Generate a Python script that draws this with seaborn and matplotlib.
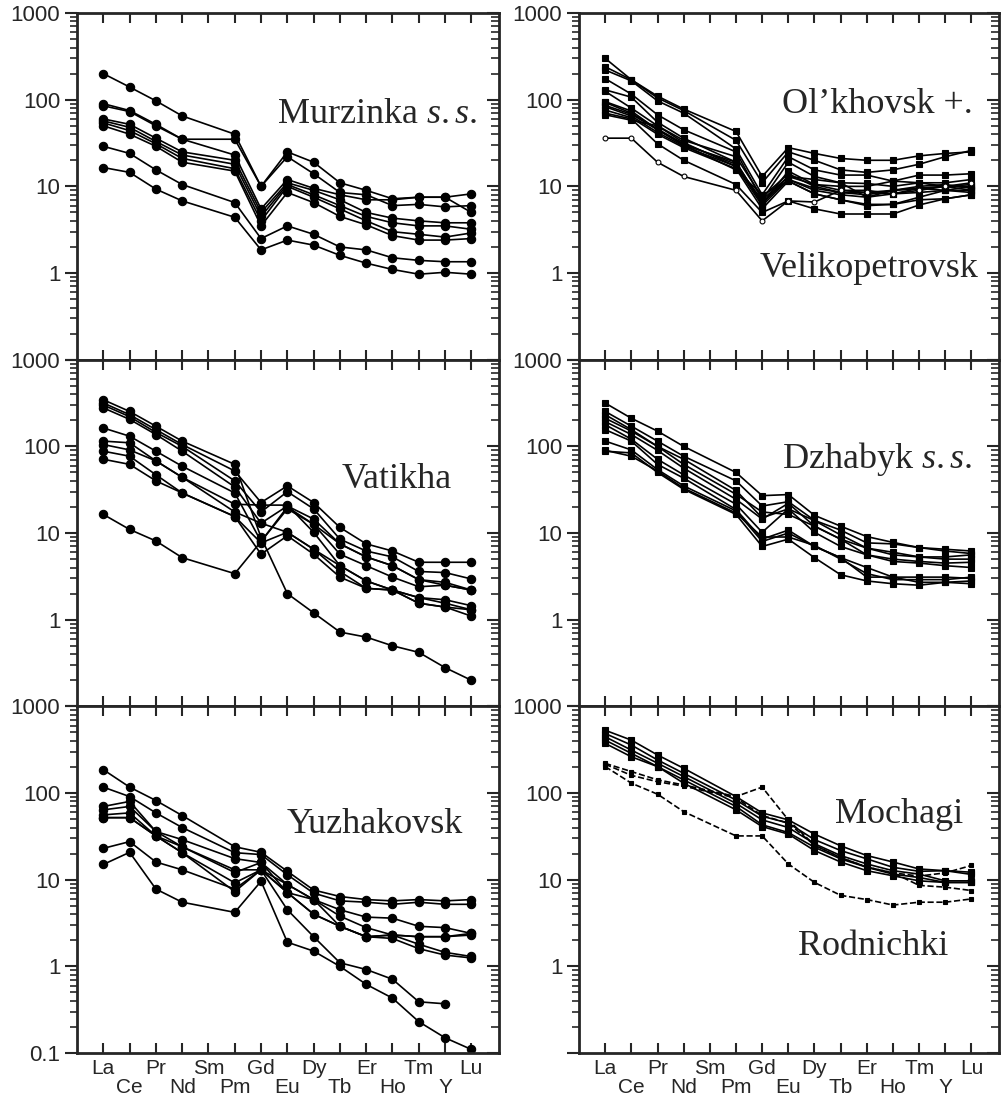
import numpy as np
import pandas as pd
import matplotlib
matplotlib.use("Agg")
import matplotlib.pyplot as plt
import matplotlib.ticker as mticker
import seaborn as sns

sns.set_style("ticks")
plt.rcParams["font.family"] = ["Liberation Sans", "DejaVu Sans"]
plt.rcParams["mathtext.fontset"] = "custom"
plt.rcParams["mathtext.rm"] = "Liberation Serif"
plt.rcParams["mathtext.it"] = "Liberation Serif:italic"

# x-axis element order (Sm carries no analyses)
ELEMENTS = ["La", "Ce", "Pr", "Nd", "Sm", "Pm", "Gd", "Eu", "Dy", "Tb", "Er", "Ho", "Tm", "Y", "Lu"]
DATA_ELEMENTS = ["La", "Ce", "Pr", "Nd", "Pm", "Gd", "Eu", "Dy", "Tb", "Er", "Ho", "Tm", "Y", "Lu"]

# chondrite-normalised values, one list per sample (order of DATA_ELEMENTS)
murzinka = [
    [200, 140, 97, 65, 40, 10, 25, 19, 11, 9, 7.2, 7.5, 7.5, 8.2],
    [90, 75, 52, 35, 35, 10, 22, 14, 8.5, 8, 6, 6.2, 5.8, 6],
    [85, 73, 50, 35, 23, 5.5, 12, 9.5, 8, 7, 7, 7.5, 7.5, 5],
    [60, 52, 36, 25, 20, 5, 11, 9, 7, 5, 4.3, 4, 3.8, 3.8],
    [57, 48, 33, 23, 18, 4.5, 10.5, 8, 6, 4.5, 3.8, 3.5, 3.5, 3.2],
    [54, 44, 31, 21, 16, 4, 10, 7.5, 5.5, 4, 3, 2.8, 2.6, 2.9],
    [50, 40, 29, 19, 15, 3.5, 8.5, 6.5, 4.5, 3.6, 2.7, 2.4, 2.4, 2.5],
    [29, 24, 15.5, 10.5, 6.5, 2.5, 3.5, 2.8, 2, 1.85, 1.5, 1.4, 1.35, 1.35],
    [16.5, 14.5, 9.3, 6.8, 4.4, 1.85, 2.4, 2.1, 1.6, 1.3, 1.1, 0.97, 1.02, 0.97],
]

olkhovsk = [
    [300, 170, 110, 78, 43, 13, 28, 24, 21, 20, 20, 22.5, 24, 25],
    [240, 170, 105, 75, 34, 11, 25, 20, 15.5, 14.5, 15.5, 18, 22, 26],
    [220, 165, 97, 70, 27, 8, 22, 15.5, 13.5, 13.5, 11.5, 13.5, 13.5, 14],
    [175, 116, 67, 45, 25, 7, 19, 13, 11, 10.8, 10, 11, 11, 12],
    [130, 107, 55, 36, 19, 6.3, 15, 10.5, 9, 9, 8.2, 9.5, 10, 10],
    [125, 80, 50, 32, 17, 7, 13, 12, 11, 7.5, 9, 9.5, 9, 9],
    [95, 74, 45, 30, 15.5, 8, 11.5, 8.2, 7, 6, 6.2, 7.5, 9, 10],
    [93, 70, 46, 31, 18, 6.5, 12, 9.5, 8.5, 8.5, 9, 9.5, 10, 10.5],
    [86, 68, 45, 30, 19, 6.3, 13, 10.5, 10, 10, 11.5, 11, 10, 9],
    [83, 65, 42, 29, 17, 6, 12, 9, 8, 7.5, 8.2, 8.5, 9, 8.5],
    [76, 62, 40, 28, 16, 5.5, 11.5, 8.2, 7, 6.2, 6.2, 7, 7.2, 8],
    [70, 60, 31, 20, 10.5, 5, 6.8, 5.5, 4.8, 4.8, 4.8, 6.1, 7.2, 8],
    [67, 58, 50, 34, 22, 7.5, 14, 10, 8.5, 8, 9, 10, 10.5, 9.5],
]
velikopetrovsk = [
    [36, 36, 19, 13, 9, 4, 6.8, 6.6, 9, 8.5, 8.2, 9, 10, 11],
]

vatikha = [
    [345, 253, 171, 115, 62, 8.9, 2.0, 1.2, 0.72, 0.63, 0.5, 0.42, 0.28, 0.2],
    [317, 232, 156, 105, 52, 22.5, 35, 22.5, 11.6, 7.5, 6.2, 4.6, 4.6, 4.6],
    [300, 220, 145, 100, 40, 17.5, 30, 19, 8.5, 6.2, 5.3, 3.6, 3.5, 2.95],
    [278, 205, 137, 88, 34, 13, 20.5, 14.5, 7.5, 5.3, 4.2, 2.9, 2.7, 2.2],
    [163, 131, 88, 59, 29, 8, 19, 12.6, 5.7, 4.2, 3.1, 2.4, 2.5, 2.2],
    [115, 110, 68, 44, 21.5, 21, 21, 10.2, 4.2, 2.8, 2.2, 1.8, 1.7, 1.45],
    [105, 91, 68, 44, 17.5, 13, 10.2, 6.5, 3.6, 2.3, 2.2, 1.55, 1.4, 1.3],
    [88, 77, 47, 29, 15.5, 5.7, 9.3, 5.7, 3.1, 2.3, 2.2, 1.55, 1.4, 1.1],
    [71, 62, 40, 29, 15.5, 7.7, 10.2, 6.5, 4.2, 2.8, 2.2, 1.8, 1.55, 1.3],
    [16.4, 11, 8.1, 5.2, 3.4, 8, 20, 12.6, 7.5, 5.3, 4.2, 2.9, 2.5, 2.2],
]

dzhabyk = [
    [316, 211, 150, 100, 50, 27, 27.8, 16, 12, 9.1, 7.8, 6.8, 6.2, 5.8],
    [253, 171, 115, 77, 40, 20.5, 23, 14, 10.8, 7.7, 7.5, 6.8, 6.5, 6.2],
    [232, 156, 100, 71, 31, 15, 19, 13.9, 9.5, 6.7, 6, 5.3, 5.3, 5.6],
    [211, 150, 100, 62, 28, 17.5, 16.4, 12, 8.5, 6.7, 5.6, 5.3, 5, 5],
    [193, 137, 90, 56, 24.5, 14.5, 22, 12, 8.5, 5.6, 5, 4.7, 4.5, 4.6],
    [178, 121, 71, 47, 21.5, 10.2, 19, 10.2, 7, 5.6, 4.7, 4.5, 4.2, 4],
    [156, 115, 62, 43, 18.7, 8.5, 10.8, 7, 5.2, 4, 3.1, 3.1, 3.1, 3],
    [115, 91, 54, 35, 18, 8, 10, 7, 5.2, 3.1, 3.1, 2.7, 2.7, 2.8],
    [88, 84, 50, 32, 16.4, 7, 8.5, 5.2, 3.3, 2.8, 2.6, 2.5, 2.7, 2.6],
    [90, 77, 52, 33, 17, 9, 9, 7.2, 5, 3.4, 2.9, 2.9, 2.9, 3.1],
]

yuzhakovsk = [
    [186, 117, 82, 55, 24, 20.7, 12.5, 7.6, 6.4, 5.9, 5.7, 5.9, 5.7, 5.9],
    [117, 91, 59, 40, 20.5, 19.5, 11.4, 7, 5.7, 5.5, 5.2, 5.5, 5.2, 5.2],
    [70, 80, 36, 29, 17.5, 15.8, 8.8, 5.9, 4.5, 3.7, 3.6, 2.9, 2.8, 2.4],
    [64, 70, 36, 24, 13, 13, 8.8, 5.9, 3.8, 2.8, 2.3, 2.2, 2.2, 2.3],
    [56, 59, 32, 24, 12.1, 15.8, 7.1, 5.9, 2.9, 2.2, 2.1, 1.6, 1.35, 1.25],
    [52, 52, 32, 20.5, 9.2, 13, 7.1, 4, 2.9, 2.2, 2.3, 1.8, 1.45, 1.3],
    [52, 52, 32, 20.5, 7.3, 13, 7.1, 4, 2.9, 2.2, 2.3, 2.2, 2.2, 2.4],
    [23, 27.5, 16, 13, 7.8, 13, 4.5, 2.2, 1.1, 0.92, 0.71, 0.39, 0.37, None],
    [15, 20.7, 7.8, 5.5, 4.2, 9.6, 1.9, 1.5, 1.0, 0.62, 0.43, 0.23, 0.15, 0.11],
]

mochagi = [
    [530, 408, 275, 193, 91, 59, 49, 33.6, 24.6, 19, 16, 13.3, 12.7, 12.2],
    [486, 358, 241, 169, 83, 54, 45, 29, 21.7, 17.4, 13.9, 12.5, 12.7, 11.5],
    [446, 313, 221, 155, 76, 49, 40, 26, 19, 15.2, 12.7, 11.6, 9.7, 9.7],
    [408, 287, 202, 142, 70, 43, 35, 23.7, 17.4, 13.9, 11.6, 10.6, 9.3, 9.3],
    [374, 262, 202, 130, 64, 41, 33.6, 21.7, 16, 12.7, 11.1, 9.7, 9.3, 9.3],
]
rodnichki = [
    [220, 177, 142, 124, 91, 117, 49, 25, 18, 14, 12, 8.6, 8.2, 7.5],
    [202, 130, 97, 61, 32, 32, 15.2, 9.3, 6.6, 5.9, 5.1, 5.5, 5.5, 6],
    [215, 160, 135, 120, 88, 55, 45, 25, 18, 14, 12, 11, 12, 14.6],
]


def to_frame(samples):
    rows = []
    for k, s in enumerate(samples):
        for el, v in zip(DATA_ELEMENTS, s):
            if v is None:
                continue
            rows.append({"sample": k, "x": ELEMENTS.index(el), "value": v})
    return pd.DataFrame(rows)


def draw(ax, samples, marker, ms, ls="-", mfc="black"):
    sns.lineplot(data=to_frame(samples), x="x", y="value", units="sample",
                 estimator=None, color="black", linewidth=1.2, linestyle=ls,
                 marker=marker, markersize=ms, markerfacecolor=mfc,
                 markeredgecolor="black", markeredgewidth=0.8,
                 legend=False, ax=ax)


def style_axis(ax, show_xlabels, show_lowest):
    ax.set_yscale("log")
    ax.set_ylim(0.1, 1000)
    ax.set_xlim(-1, 15.05)
    ax.set_xlabel("")
    ax.set_ylabel("")
    ax.set_yticks([0.1, 1, 10, 100, 1000])
    ax.set_yticklabels(["0.1" if show_lowest else "", "1", "10", "100", "1000"])
    ax.yaxis.set_minor_locator(mticker.LogLocator(base=10, subs=np.arange(2, 10)))
    ax.yaxis.set_minor_formatter(mticker.NullFormatter())
    ax.tick_params(axis="y", which="major", direction="out", length=9, width=1.5,
                   labelsize=16, pad=3)
    ax.tick_params(axis="y", which="minor", direction="out", length=5, width=1.2)
    ax.set_xticks(range(len(ELEMENTS)))
    ax.set_xticklabels([])
    ax.tick_params(axis="x", which="major", direction="in", length=7, width=1.5,
                   top=True, bottom=True)
    ax.tick_params(axis="x", which="minor", length=0)
    for sp in ax.spines.values():
        sp.set_visible(True)
        sp.set_linewidth(2)
    # right-hand ticks pointing into the panel
    tw = ax.twinx()
    tw.set_yscale("log")
    tw.set_ylim(0.1, 1000)
    tw.set_yticks([0.1, 1, 10, 100, 1000])
    tw.yaxis.set_minor_locator(mticker.LogLocator(base=10, subs=np.arange(2, 10)))
    tw.yaxis.set_major_formatter(mticker.NullFormatter())
    tw.yaxis.set_minor_formatter(mticker.NullFormatter())
    tw.tick_params(axis="y", which="major", direction="in", length=9, width=1.5)
    tw.tick_params(axis="y", which="minor", direction="in", length=6, width=1.2)
    for sp in tw.spines.values():
        sp.set_visible(False)
    if show_xlabels:
        for i, el in enumerate(ELEMENTS):
            y = -0.046 if i % 2 == 0 else -0.098
            ax.text(i, y, el, transform=ax.get_xaxis_transform(), ha="center",
                    va="center", fontsize=15)


def label(ax, x, y, s):
    ax.text(x, y, s, transform=ax.transAxes, ha="right", va="baseline",
            fontsize=26, family="Liberation Serif")


fig = plt.figure(figsize=(10.07, 10.96), dpi=100)
h = 0.3163
bottoms = [0.6718, 0.3555, 0.0392]
lefts = [0.0765, 0.575]
widths = [0.419, 0.417]
axes = [[fig.add_axes([lefts[c], bottoms[r], widths[c], h]) for c in range(2)] for r in range(3)]

# Murzinka
ax = axes[0][0]
draw(ax, murzinka, "o", 6)
style_axis(ax, False, False)
label(ax, 0.95, 0.683, r"Murzinka $\mathit{s.s.}$")

# Ol'khovsk + Velikopetrovsk
ax = axes[0][1]
draw(ax, olkhovsk, "s", 4)
draw(ax, velikopetrovsk, "o", 3.5, mfc="white")
style_axis(ax, False, False)
label(ax, 0.938, 0.712, "Ol’khovsk +.")
label(ax, 0.95, 0.239, "Velikopetrovsk")

# Vatikha
ax = axes[1][0]
draw(ax, vatikha, "o", 6)
style_axis(ax, False, False)
label(ax, 0.889, 0.63, "Vatikha")

# Dzhabyk
ax = axes[1][1]
draw(ax, dzhabyk, "s", 4)
style_axis(ax, False, False)
label(ax, 0.938, 0.687, r"Dzhabyk $\mathit{s.s.}$")

# Yuzhakovsk
ax = axes[2][0]
draw(ax, yuzhakovsk, "o", 6)
style_axis(ax, True, True)
label(ax, 0.915, 0.635, "Yuzhakovsk")

# Mochagi + Rodnichki
ax = axes[2][1]
draw(ax, mochagi, "s", 4)
draw(ax, rodnichki, "s", 3.5, ls="--")
style_axis(ax, True, False)
label(ax, 0.914, 0.663, "Mochagi")
label(ax, 0.879, 0.283, "Rodnichki")

fig.savefig("out.png", dpi=100, facecolor="white")
